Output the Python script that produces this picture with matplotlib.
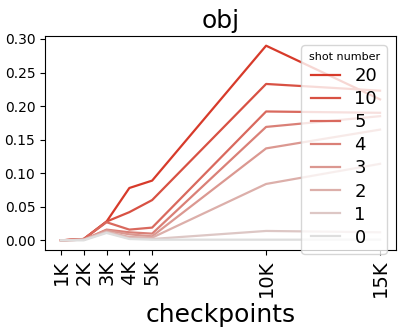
import matplotlib
matplotlib.use("Agg")
import matplotlib.pyplot as plt
import seaborn as sns

# checkpoints (in thousands) and accuracy per shot number
checkpoints = [1, 2, 3, 4, 5, 10, 15]
tick_labels = ["1K", "2K", "3K", "4K", "5K", "10K", "15K"]
shots = ["20", "10", "5", "4", "3", "2", "1", "0"]

shot_20 = [0.000, 0.002, 0.028, 0.078, 0.089, 0.290, 0.210]
shot_10 = [0.000, 0.002, 0.028, 0.042, 0.060, 0.233, 0.223]
shot_5 = [0.000, 0.002, 0.027, 0.016, 0.019, 0.192, 0.190]
shot_4 = [0.000, 0.001, 0.016, 0.012, 0.010, 0.169, 0.185]
shot_3 = [0.000, 0.001, 0.015, 0.009, 0.006, 0.137, 0.165]
shot_2 = [0.000, 0.001, 0.013, 0.005, 0.004, 0.084, 0.114]
shot_1 = [0.000, 0.001, 0.012, 0.003, 0.002, 0.014, 0.012]
shot_0 = [0.000, 0.000, 0.011, 0.002, 0.001, 0.001, 0.001]

series = [shot_20, shot_10, shot_5, shot_4, shot_3, shot_2, shot_1, shot_0]

colors = sns.blend_palette(["#d73a2a", "#dedede"], len(shots))

fig = plt.figure(figsize=(4.07, 3.33), dpi=100)
ax = fig.add_axes([0.1106, 0.249, 0.8624, 0.643])

for label, vals, c in zip(shots, series, colors):
    ax.plot(checkpoints, vals, color=c, linewidth=1.6, label=label)

ax.set_xticks(checkpoints)
ax.set_xticklabels(tick_labels, rotation=90, fontsize=14)
ax.tick_params(axis="y", labelsize=10)
ax.set_xlabel("checkpoints", fontsize=18)
ax.set_title("obj", fontsize=18)

leg = ax.legend(title="shot number", fontsize=13, title_fontsize=8,
                loc="upper right", labelspacing=0.28, handlelength=1.6)

plt.savefig("out.png", dpi=100)
plt.close(fig)
